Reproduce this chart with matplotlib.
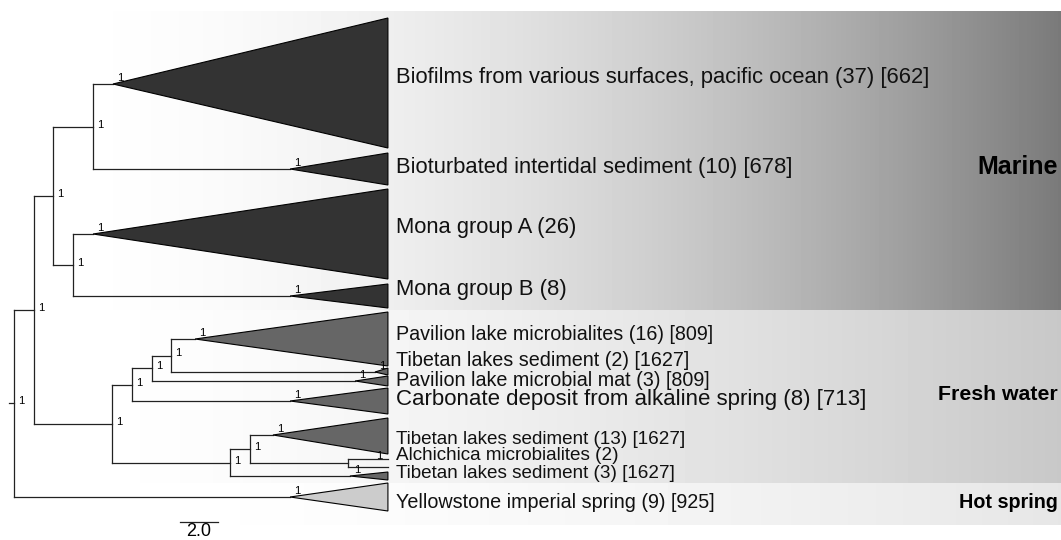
import matplotlib
matplotlib.use("Agg")
import matplotlib.pyplot as plt
from matplotlib.patches import Polygon
import numpy as np

# collapsed clades, top to bottom
clade_ids = ["biofilm", "bioturb", "monaA", "monaB", "pavmicro", "tib2",
             "pavmat", "carb", "tib13", "alch", "tib3", "yellow"]
clade_labels = [
    "Biofilms from various surfaces, pacific ocean (37) [662]",
    "Bioturbated intertidal sediment (10) [678]",
    "Mona group A (26)",
    "Mona group B (8)",
    "Pavilion lake microbialites (16) [809]",
    "Tibetan lakes sediment (2) [1627]",
    "Pavilion lake microbial mat (3) [809]",
    "Carbonate deposit from alkaline spring (8) [713]",
    "Tibetan lakes sediment (13) [1627]",
    "Alchichica microbialites (2)",
    "Tibetan lakes sediment (3) [1627]",
    "Yellowstone imperial spring (9) [925]",
]
clade_habitat = ["Marine"] * 4 + ["Fresh water"] * 7 + ["Hot spring"]
# depth of clade root (branch length units), tree rows of apex / spread
clade_depth = [5.21, 14.53, 4.16, 14.53, 9.53, 19.0, 17.95, 14.53, 13.63, 17.58, 17.68, 14.53]
clade_row = [84, 169, 234, 296, 339, 372, 381, 401, 435, 463, 476, 497]
clade_top = [18, 153, 189, 284, 312, 368, 376, 388, 418, 459, 472, 483]
clade_bot = [148, 185, 279, 308, 366, 375, 386, 414, 454, 467, 480, 511]
label_row = [77, 167, 228, 290, 335, 361, 380, 400, 439, 456, 473, 502]
tip_depth = 19.68

# internal nodes
node_ids = ["root", "A", "marine", "bio", "mona", "fresh", "X", "Y", "Z", "W", "V"]
node_depth = [0.0, 1.05, 2.05, 4.16, 3.10, 5.16, 6.21, 7.26, 8.26, 11.37, 12.42]
node_kids = [("A", "yellow"), ("marine", "fresh"), ("bio", "mona"), ("biofilm", "bioturb"),
             ("monaA", "monaB"), ("X", "W"), ("Y", "carb"), ("Z", "pavmat"),
             ("pavmicro", "tib2"), ("V", "tib3"), ("tib13", "alch")]
support = "1"

habitats = ["Marine", "Fresh water", "Hot spring"]
habitat_fill = ["#333333", "#666666", "#cccccc"]
band_top = [11, 310, 483]
band_bot = [310, 483, 525]
band_start = [0.42, 2.95, 6.1]
band_grey = [122, 200, 230]
band_pow = [2.0, 1.5, 1.5]

scale_len = 2.0

PX = 19.0  # pixels per branch unit
X0 = 14.0


def row_of(n):
    if n in clade_ids:
        return clade_row[clade_ids.index(n)]
    a, b = node_kids[node_ids.index(n)]
    return (row_of(a) + row_of(b)) / 2


def depth_of(n):
    if n in clade_ids:
        return clade_depth[clade_ids.index(n)]
    return node_depth[node_ids.index(n)]


def main():
    fig = plt.figure(figsize=(10.61, 5.40), dpi=100)
    ax = fig.add_axes([0, 0, 1, 1])
    xmax = (1061 - X0) / PX
    ax.axis("off")
    tf = ["Liberation Sans", "DejaVu Sans"]

    # habitat bands
    t = np.linspace(0, 1, 300)
    for i, h in enumerate(habitats):
        g = 255 - (255 - band_grey[i]) * t ** band_pow[i]
        ax.imshow(g[None, :], cmap="gray", vmin=0, vmax=255, aspect="auto",
                  extent=[band_start[i], xmax, band_bot[i], band_top[i]],
                  interpolation="bilinear", zorder=0)
    ax.set_xlim(-X0 / PX, xmax)
    ax.set_ylim(540, 0)

    # branches
    lc = "#222222"
    for n, d, (a, b) in zip(node_ids, node_depth, node_kids):
        ra, rb = row_of(a), row_of(b)
        ax.plot([d, d], [ra, rb], color=lc, lw=0.9, zorder=2)
        ax.plot([d, depth_of(a)], [ra, ra], color=lc, lw=0.9, zorder=2)
        ax.plot([d, depth_of(b)], [rb, rb], color=lc, lw=0.9, zorder=2)
        ax.text(d + 4 / PX, (ra + rb) / 2 - 2, support, fontsize=8,
                family=tf, va="center", ha="left", zorder=4)
    r0 = row_of("root")
    ax.plot([-0.25, 0], [r0, r0], color=lc, lw=0.9, zorder=2)

    # collapsed clades
    for i, c in enumerate(clade_ids):
        d = clade_depth[i]
        col = habitat_fill[habitats.index(clade_habitat[i])]
        if c == "alch":
            ax.plot([d, d], [clade_top[i], clade_bot[i]], color=lc, lw=0.9, zorder=2)
            for r in (clade_top[i], clade_bot[i]):
                ax.plot([d, tip_depth], [r, r], color=lc, lw=0.9, zorder=2)
            ax.text(d + 28 / PX, clade_top[i] - 3, support, fontsize=8, family=tf,
                    va="center", ha="left", zorder=4)
        else:
            tri = Polygon([(d, clade_row[i]), (tip_depth, clade_top[i]),
                           (tip_depth, clade_bot[i])], closed=True,
                          facecolor=col, edgecolor="black", lw=0.8, zorder=3)
            ax.add_patch(tri)
            ax.text(d + 4 / PX, clade_row[i] - 6, support, fontsize=8, family=tf,
                    va="center", ha="left", zorder=4)
        fs = 15.8 if clade_habitat[i] == "Marine" else 14.2
        if c == "carb":
            fs = 16
        if c in ("tib13", "alch", "tib3"):
            fs = 13.6
        ax.text((396 - X0) / PX, label_row[i], clade_labels[i], fontsize=fs,
                family=tf, va="center", ha="left", color="#111111", zorder=4)

    # habitat names
    hrow = [167, 395, 502]
    hsize = [18, 15.3, 14.2]
    for i, h in enumerate(habitats):
        ax.text((1058 - X0) / PX, hrow[i], h, fontsize=hsize[i], fontweight="bold",
                family=tf, va="center", ha="right", color="black", zorder=4)

    # scale bar
    sx = (180 - X0) / PX
    ax.plot([sx, sx + scale_len], [522, 522], color=lc, lw=0.9)
    ax.text(sx + scale_len / 2, 523, f"{scale_len:.1f}", fontsize=13, family=tf,
            ha="center", va="top")

    fig.savefig("out.png", dpi=100)


if __name__ == "__main__":
    main()
